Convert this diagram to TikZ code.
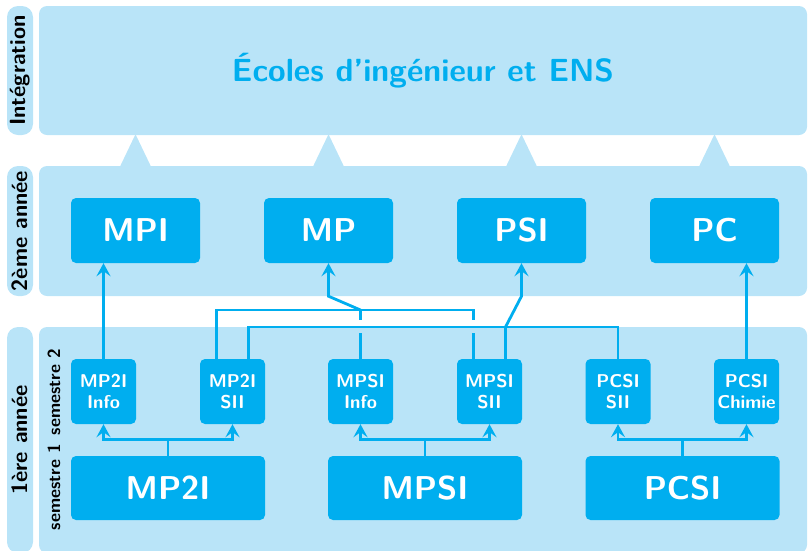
\documentclass[tikz,border=0pt]{standalone}
\usepackage{fontspec}
\usetikzlibrary{arrows.meta,calc}
\definecolor{darkc}{RGB}{0,174,239}
\definecolor{lightc}{RGB}{185,228,248}
\tikzset{
  panel/.style={fill=lightc, rounded corners=8pt, inner sep=0pt, minimum width=768pt},
  yearlab/.style={fill=lightc, rounded corners=11pt, inner sep=0pt, minimum height=26pt, rotate=90,
    font=\sffamily\bfseries\fontsize{22}{24}\selectfont},
  semlab/.style={rotate=90, inner sep=0pt, font=\sffamily\bfseries\fontsize{17.5}{20}\selectfont},
  bigbox/.style={fill=darkc, rounded corners=5pt, text=white, inner sep=0pt,
    font=\sffamily\bfseries\fontsize{33}{36}\selectfont},
  smallbox/.style={fill=darkc, rounded corners=5pt, text=white, inner sep=0pt, align=center,
    minimum width=65pt, minimum height=65pt, font=\sffamily\bfseries\fontsize{18.5}{21}\selectfont},
  conn/.style={draw=darkc, line width=2.8pt},
  arr/.style={conn, -{Stealth[length=13pt,width=14pt,inset=5pt]}},
}
\begin{document}
\begin{tikzpicture}[x=1pt,y=-1pt]
\useasboundingbox (0,0) rectangle (808,550);
% panels
\node[panel, minimum height=129pt, text=darkc, font=\sffamily\bfseries\fontsize{32}{36}\selectfont] (integ) at (423,70.5) {Écoles d’ingénieur et ENS};
\node[panel, minimum height=130pt] (annee2) at (423,231) {};
\node[panel, minimum height=226pt] (annee1) at (423,440) {};
% year labels
\node[yearlab, minimum width=129pt] (labint) at (20,70.5) {Intégration};
\node[yearlab, minimum width=130pt] (lab2) at (20,231) {2ème année};
\node[yearlab, minimum width=226pt] (lab1) at (20,440) {1ère année};
\node[semlab] (sem2) at (54,392) {semestre 2};
\node[semlab] (sem1) at (54,487) {semestre 1};
% 2nd year boxes
\node[bigbox, minimum width=129pt, minimum height=65pt] (mpi) at (135.5,230.5) {MPI};
\node[bigbox, minimum width=129pt, minimum height=65pt] (mp)  at (328.5,230.5) {MP};
\node[bigbox, minimum width=129pt, minimum height=65pt] (psi) at (521.5,230.5) {PSI};
\node[bigbox, minimum width=129pt, minimum height=65pt] (pc)  at (714.5,230.5) {PC};
% triangles
\foreach \n in {mpi,mp,psi,pc}{
  \path (\n.north |- integ.south) coordinate (t);
  \fill[lightc] ($(t)+(0,-1)$) -- ($(t)+(-15.8,32)$) -- ($(t)+(15.8,32)$) -- cycle;
}
% 1st year small boxes
\node[smallbox] (mp2iinfo) at (103.5,391.5) {MP2I\\Info};
\node[smallbox] (mp2isii) at (232.5,391.5) {MP2I\\SII};
\node[smallbox] (mpsiinfo) at (360.5,391.5) {MPSI\\Info};
\node[smallbox] (mpsisii) at (489.5,391.5) {MPSI\\SII};
\node[smallbox] (pcsisii) at (618,391.5) {PCSI\\SII};
\node[smallbox] (pcsichimie) at (746.5,391.5) {PCSI\\Chimie};
% big boxes
\node[bigbox, minimum width=194pt, minimum height=64pt] (mp2i) at (168,488) {MP2I};
\node[bigbox, minimum width=194pt, minimum height=64pt] (mpsi) at (425,488) {MPSI};
\node[bigbox, minimum width=194pt, minimum height=64pt] (pcsi) at (682.5,488) {PCSI};
% semester 1 -> 2
\foreach \b/\l/\r in {mp2i/mp2iinfo/mp2isii, mpsi/mpsiinfo/mpsisii, pcsi/pcsisii/pcsichimie}{
  \draw[conn] (\b.north) -- ++(0,-16) coordinate (j);
  \draw[arr] (j) -| (\l.south);
  \draw[arr] (j) -| (\r.south);
}
% MPI
\draw[arr] (mp2iinfo.north) -- (mp2iinfo.north |- mpi.south);
% PC
\draw[arr] (pcsichimie.north) -- (pcsichimie.north |- pc.south);
% MP
\coordinate (mpj) at (360.5,310);
\draw[conn] ([xshift=-16pt]mp2isii.north) |- ([xshift=-16pt]mpsisii.north |- mpj) -- ++(0,10);
\draw[conn] ([xshift=-16pt]mpsisii.north) -- ++(0,-26);
\draw[conn] (mpsiinfo.north) -- ++(0,-26);
\draw[conn] (mpj) -- ++(0,10);
\draw[arr] (mpj) -- ([yshift=-33pt]mp.south) -- (mp.south);
% PSI
\coordinate (psij) at (505.5,327);
\draw[conn] ([xshift=16pt]mp2isii.north) |- (pcsisii.north |- psij) -- (pcsisii.north);
\draw[conn] ([xshift=16pt]mpsisii.north) -- (psij);
\draw[arr] (psij) -- ([yshift=-33pt]psi.south) -- (psi.south);
\end{tikzpicture}
\end{document}
